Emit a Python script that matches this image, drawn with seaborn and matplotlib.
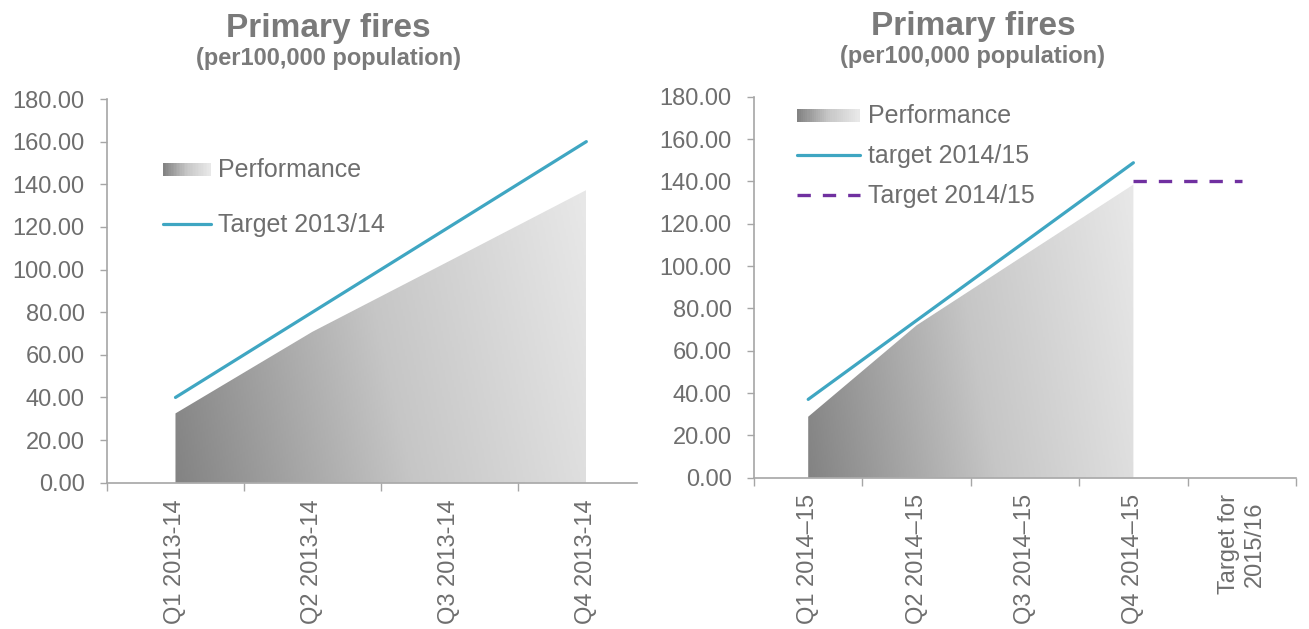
import numpy as np
import matplotlib
matplotlib.use("Agg")
import matplotlib.pyplot as plt
import seaborn as sns
from matplotlib.colors import LinearSegmentedColormap
from matplotlib.lines import Line2D
from matplotlib.patches import Rectangle, Patch
from matplotlib.legend_handler import HandlerBase
from matplotlib.ticker import FormatStrFormatter

# ---- data -------------------------------------------------------------
quarters_1314 = ["Q1 2013-14", "Q2 2013-14", "Q3 2013-14", "Q4 2013-14"]
performance_1314 = [32.5, 70.8, 104.0, 137.3]
target_1314 = [40.0, 80.0, 120.0, 160.0]

quarters_1415 = ["Q1 2014\u201315", "Q2 2014\u201315", "Q3 2014\u201315",
                 "Q4 2014\u201315", "Target for\n2015/16"]
performance_1415 = [28.8, 72.0, 105.3, 138.5]
target_1415 = [37.0, 74.3, 111.5, 148.8]
target_1516 = [np.nan, np.nan, np.nan, 140.0, 140.0]

title_text = "Primary fires"
subtitle_text = "(per100,000 population)"

# ---- style ------------------------------------------------------------
sns.set_style("white")
plt.rcParams["font.family"] = ["Liberation Sans", "DejaVu Sans"]

W, H = 1309, 629
TEAL = "#3fa6c2"
PURPLE = "#7030a0"
AXIS_GREY = "#a6a6a6"
TEXT_GREY = "#6e6e6e"
TITLE_GREY = "#7a7a7a"
area_cmap = LinearSegmentedColormap.from_list("perf", ["#838383", "#c6c6c6", "#e8e8e8"])


class GradientHandler(HandlerBase):
    """Legend key drawn as a horizontal grey gradient."""

    def create_artists(self, legend, orig_handle, xdescent, ydescent,
                       width, height, fontsize, trans):
        n = 30
        arts = []
        for i in range(n):
            r = Rectangle((-xdescent + width * i / n, -ydescent + height * 0.05),
                          width / n * 1.08, height * 0.75,
                          facecolor=area_cmap(i / (n - 1)), edgecolor="none",
                          transform=trans)
            arts.append(r)
        return arts


def gradient_area(ax, pos, values):
    poly = ax.fill_between(pos, values, 0, color="none", lw=0)
    gx, gy = np.meshgrid(np.linspace(0, 1, 256), np.linspace(0, 1, 256))
    shade = 0.86 * gx + 0.14 * gy
    im = ax.imshow(shade, cmap=area_cmap, vmin=0, vmax=1,
                   extent=(pos[0], pos[-1], 0, max(values)), origin="lower",
                   aspect="auto", interpolation="bilinear", zorder=1)
    im.set_clip_path(poly.get_paths()[0], transform=ax.transData)


def style_axes(ax, labels, xmax):
    n = len(labels)
    ax.set_yticks(np.arange(0, 181, 20))
    ax.yaxis.set_major_formatter(FormatStrFormatter("%.2f"))
    ax.set_xticks(np.arange(-0.5, n + 0.5, 1.0))
    ax.set_xticklabels([])
    ax.set_xticks(np.arange(n), labels=labels, minor=True)
    for lbl in ax.get_xticklabels(minor=True):
        lbl.set_rotation(90)
        lbl.set_multialignment("center")
    ax.set_ylim(0, 180)
    ax.set_xlim(-0.5, xmax)
    ax.tick_params(axis="x", which="minor", length=0, pad=12,
                   labelsize=17, labelcolor=TEXT_GREY)
    ax.tick_params(axis="x", which="major", length=5.5, width=1,
                   direction="out", color=AXIS_GREY, bottom=True)
    ax.tick_params(axis="y", length=5, width=1, direction="out",
                   color=AXIS_GREY, left=True, pad=11,
                   labelsize=17, labelcolor=TEXT_GREY)
    for side in ("top", "right"):
        ax.spines[side].set_visible(False)
    for side in ("left", "bottom"):
        ax.spines[side].set_color(AXIS_GREY)
        ax.spines[side].set_linewidth(1.2)
    ax.set_xlabel("")
    ax.set_ylabel("")
    ax.grid(False)


fig = plt.figure(figsize=(W / 100, H / 100), dpi=100)

# ---- left panel: 2013/14 -------------------------------------------
ax1 = fig.add_axes([107 / W, (H - 482.7) / H, (637 - 107) / W, (482.7 - 99) / H])
pos1 = np.arange(len(quarters_1314))
gradient_area(ax1, pos1, performance_1314)
sns.lineplot(x=pos1, y=target_1314, ax=ax1, color=TEAL, lw=2.3, zorder=3)
style_axes(ax1, quarters_1314, 3.37)

# ---- right panel: 2014/15 ------------------------------------------
ax2 = fig.add_axes([754 / W, (H - 477.7) / H, (1296 - 754) / W, (477.7 - 96.7) / H])
pos2 = np.arange(len(quarters_1415))
gradient_area(ax2, pos2[:len(performance_1415)], performance_1415)
sns.lineplot(x=pos2[:len(target_1415)], y=target_1415, ax=ax2,
             color=TEAL, lw=2.3, zorder=3)
t1516 = np.array(target_1516)
mask = ~np.isnan(t1516)
sns.lineplot(x=pos2[mask], y=t1516[mask], ax=ax2, color=PURPLE, lw=2.4,
             linestyle=(0, (4.0, 3.6)), zorder=3)
style_axes(ax2, quarters_1415, 4.5)

# ---- titles ---------------------------------------------------------
for cx, ty, sy in ((328, 37, 65), (973, 35, 63)):
    fig.text(cx / W, (H - ty) / H, title_text, ha="center", va="baseline",
             fontsize=24, fontweight="bold", color=TITLE_GREY)
    fig.text(cx / W, (H - sy) / H, subtitle_text, ha="center", va="baseline",
             fontsize=17, fontweight="bold", color=TITLE_GREY)

# ---- legends --------------------------------------------------------
perf_key = Patch(facecolor="#aaaaaa")
h1 = [perf_key, Line2D([], [], color=TEAL, lw=2.3)]
leg1 = ax1.legend(h1, ["Performance", "Target 2013/14"],
                  handler_map={Patch: GradientHandler()},
                  loc="upper left", bbox_to_anchor=(163 / W, (H - 158) / H),
                  bbox_transform=fig.transFigure, frameon=False,
                  fontsize=18, labelcolor=TEXT_GREY, borderpad=0,
                  borderaxespad=0, handlelength=1.9, handletextpad=0.3,
                  labelspacing=1.25)

h2 = [perf_key, Line2D([], [], color=TEAL, lw=2.3),
      Line2D([], [], color=PURPLE, lw=2.4, linestyle=(0, (4.0, 3.6)))]
leg2 = ax2.legend(h2, ["Performance", "target 2014/15", "Target 2014/15"],
                  handler_map={Patch: GradientHandler()},
                  loc="upper left", bbox_to_anchor=(797 / W, (H - 104) / H),
                  bbox_transform=fig.transFigure, frameon=False,
                  fontsize=18, labelcolor=TEXT_GREY, borderpad=0,
                  borderaxespad=0, handlelength=2.5, handletextpad=0.35,
                  labelspacing=0.65)

fig.savefig("out.png", dpi=100, facecolor="white")
